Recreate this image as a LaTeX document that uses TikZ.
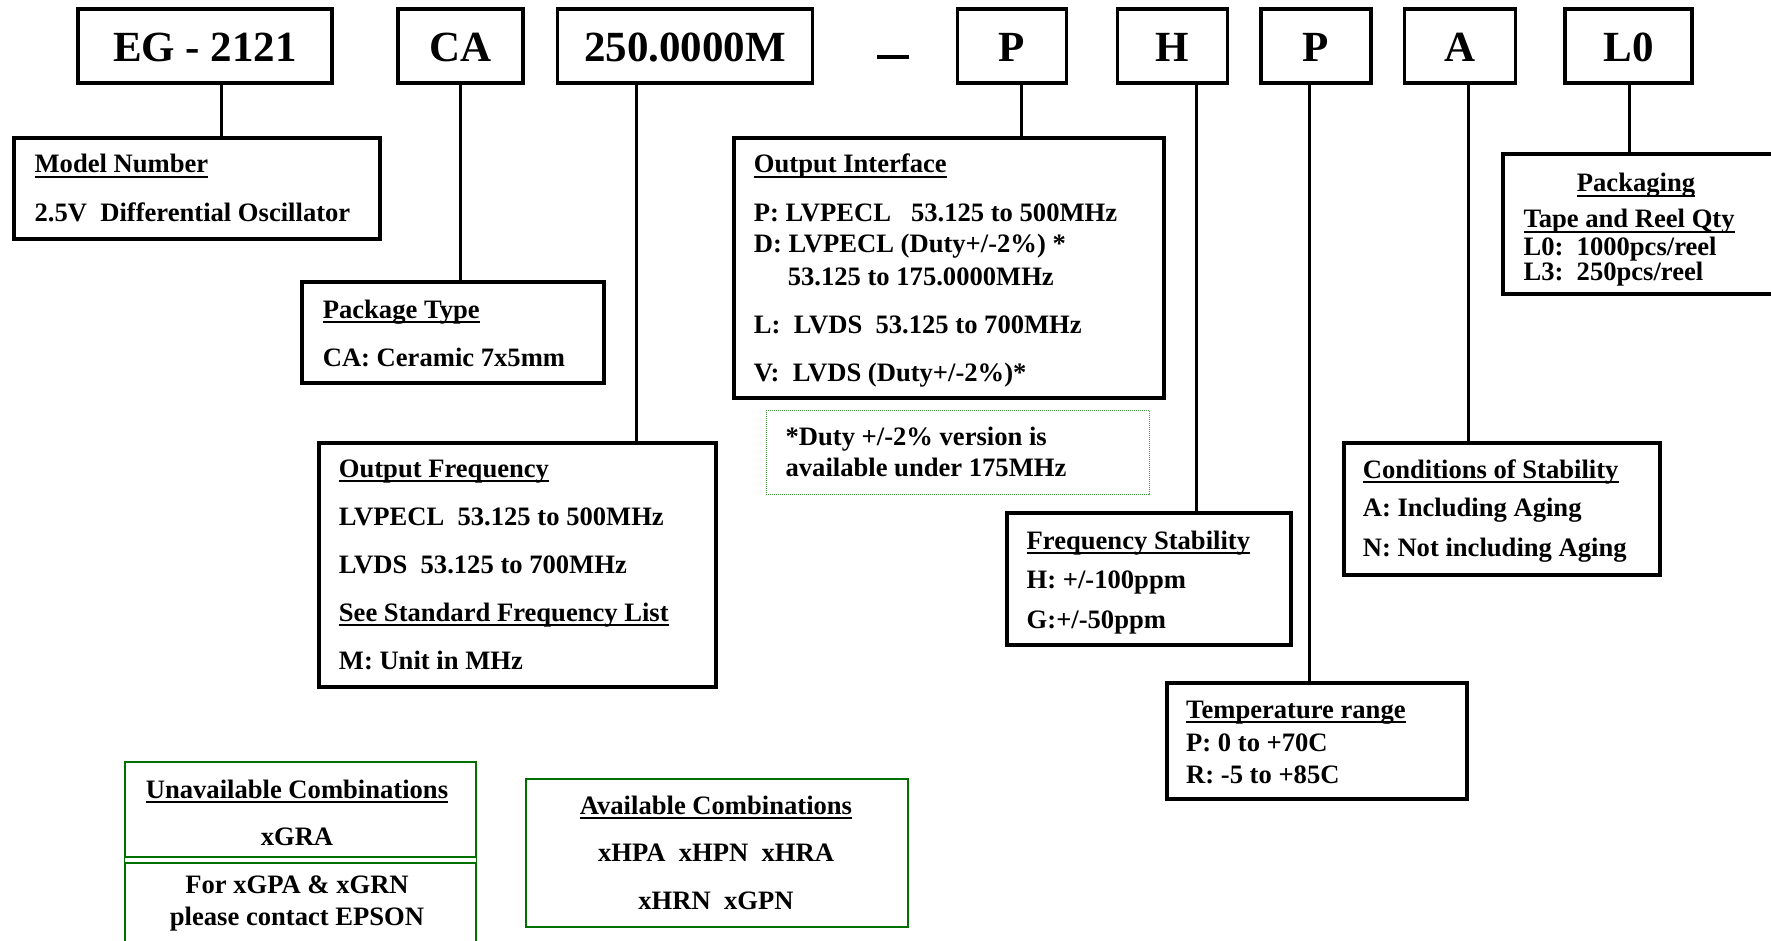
\documentclass[tikz,border=0pt]{standalone}
\usepackage{fontspec}
\setmainfont{Liberation Serif}
\definecolor{comboGreen}{RGB}{0,112,0}
\definecolor{noteGreen}{RGB}{60,150,60}
\newsavebox\ulinbox
\newcommand{\ulin}[1]{\sbox\ulinbox{#1}\rlap{\rule[-4.6pt]{\wd\ulinbox}{2pt}}\usebox\ulinbox}

\begin{document}
\begin{tikzpicture}[x=1pt, y=-1pt,
    node font=\fontsize{26.6}{30}\selectfont\bfseries,
    code/.style={draw, line width=3.4pt, minimum height=74.3pt, inner sep=0pt, outer sep=0pt,
      text height=31.5pt, text depth=0pt, font=\fontsize{43}{48}\selectfont\bfseries},
    info/.style={draw, line width=3.4pt, anchor=north west, inner sep=0pt, outer sep=0pt},
    combo/.style={draw=comboGreen, line width=2pt, anchor=north west, inner sep=0pt, outer sep=0pt},
    link/.style={line width=3pt},
    txt/.style={anchor=base west, inner sep=0pt},
    ctxt/.style={anchor=base, inner sep=0pt}]
  \useasboundingbox (0,0) rectangle (1771,941);
  \clip (0,0) rectangle (1771,941);

  % part number code
  \node[code, minimum width=254pt] (eg) at (205,46) {EG - 2121};
  \node[code, minimum width=125pt] (ca) at (460.5,46) {CA};
  \node[code, minimum width=254.5pt] (freq) at (685,46) {250.0000M};
  \node (dash) at (893,57) {\rule{32pt}{4pt}};
  \node[code, minimum width=109.5pt] (pout) at (1012,46) {P};
  \node[code, minimum width=110pt] (hstab) at (1172.5,46) {H};
  \node[code, minimum width=110pt] (ptemp) at (1316,46) {P};
  \node[code, minimum width=110.5pt] (acond) at (1460,46) {A};
  \node[code, minimum width=127pt] (lpack) at (1628.5,46) {L0};

  % description boxes
  \node[info, minimum width=366pt, minimum height=101pt] (model) at (14,138) {};
  \node[info, minimum width=302pt, minimum height=101pt] (pkg) at (302,282) {};
  \node[info, minimum width=397pt, minimum height=244pt] (ofreq) at (319,443) {};
  \node[info, minimum width=430pt, minimum height=260pt] (oif) at (734,138) {};
  \node[draw=noteGreen, densely dotted, line width=1pt, anchor=north west, inner sep=0pt,
    minimum width=383pt, minimum height=84.5pt] (note) at (765.5,409.5) {};
  \node[info, minimum width=284pt, minimum height=132pt] (fstab) at (1007,513) {};
  \node[info, minimum width=300pt, minimum height=116pt] (trange) at (1167,683) {};
  \node[info, minimum width=316pt, minimum height=132pt] (cstab) at (1344,443) {};
  \node[info, minimum width=320pt, minimum height=140pt] (packing) at (1503,154) {};
  \node[combo, minimum width=351pt, minimum height=220pt] (unav) at (125,761.5) {};
  \node[combo, minimum width=382pt, minimum height=148pt] (avail) at (526,778.5) {};
  \draw[comboGreen, double, double distance=4pt, line width=2pt]
    ([yshift=-98.5pt]unav.north west) -- ([yshift=-98.5pt]unav.north east);

  % connectors
  \draw[link] ([xshift=16pt]eg.south) -- ([xshift=16pt]eg.south |- model.north);
  \draw[link] (ca.south) -- (ca.south |- pkg.north);
  \draw[link] ([xshift=-49pt]freq.south) -- ([xshift=-49pt]freq.south |- ofreq.north);
  \draw[link] ([xshift=9pt]pout.south) -- ([xshift=9pt]pout.south |- oif.north);
  \draw[link] ([xshift=24pt]hstab.south) -- ([xshift=24pt]hstab.south |- fstab.north);
  \draw[link] ([xshift=-7pt]ptemp.south) -- ([xshift=-7pt]ptemp.south |- trange.north);
  \draw[link] ([xshift=8pt]acond.south) -- ([xshift=8pt]acond.south |- cstab.north);
  \draw[link] ([xshift=0.5pt]lpack.south) -- ([xshift=0.5pt]lpack.south |- packing.north);

  % texts
  \node[txt] (model-a) at (34.4,173) {\ulin{Model Number}};
  \node[txt] (model-b) at (34.4,221.7) {2.5V\ \ Differential Oscillator};

  \node[txt] (pkg-a) at (322.6,318.3) {\ulin{Package Type}};
  \node[txt] (pkg-b) at (322.6,366) {CA: Ceramic 7x5mm};

  \node[txt] (ofreq-a) at (338.7,477.7) {\ulin{Output Frequency}};
  \node[txt] (ofreq-b) at (338.7,525.7) {LVPECL\ \ 53.125 to 500MHz};
  \node[txt] (ofreq-c) at (338.7,573.3) {LVDS\ \ 53.125 to 700MHz};
  \node[txt] (ofreq-d) at (338.7,621) {\ulin{See Standard Frequency List}};
  \node[txt] (ofreq-e) at (338.7,669) {M: Unit in MHz};

  \node[txt] (oif-a) at (753.7,173) {\ulin{Output Interface}};
  \node[txt] (oif-b) at (753.7,221.7) {P: LVPECL\ \ \ 53.125 to 500MHz};
  \node[txt] (oif-c) at (753.7,253) {D: LVPECL (Duty+/-2\%) *};
  \node[txt] (oif-d) at (787.6,285) {53.125 to 175.0000MHz};
  \node[txt] (oif-e) at (753.7,333) {L:\ \ LVDS\ \ 53.125 to 700MHz};
  \node[txt] (oif-f) at (753.7,381.7) {V:\ \ LVDS (Duty+/-2\%)*};

  \node[txt] (note-a) at (785.4,445) {*Duty +/-2\% version is};
  \node[txt] (note-b) at (785.4,476.7) {available under 175MHz};

  \node[txt] (fstab-a) at (1026.5,549) {\ulin{Frequency Stability}};
  \node[txt] (fstab-b) at (1026.5,588) {H: +/-100ppm};
  \node[txt] (fstab-c) at (1026.5,628) {G:+/-50ppm};

  \node[txt] (trange-a) at (1186,718.3) {\ulin{Temperature range}};
  \node[txt] (trange-b) at (1186,751) {P: 0 to +70C};
  \node[txt] (trange-c) at (1186,783.3) {R: -5 to +85C};

  \node[txt] (cstab-a) at (1362.6,478.3) {\ulin{Conditions of Stability}};
  \node[txt] (cstab-b) at (1362.6,516.7) {A: Including Aging};
  \node[txt] (cstab-c) at (1362.6,556.7) {N: Not including Aging};

  \node[ctxt] (packing-a) at (1636,192) {\ulin{Packaging}};
  \node[txt] (packing-b) at (1523.3,228) {\ulin{Tape and Reel Qty}};
  \node[txt] (packing-c) at (1523.3,256) {L0:\ \ 1000pcs/reel};
  \node[txt] (packing-d) at (1523.3,280) {L3:\ \ 250pcs/reel};

  \node[ctxt] (unav-a) at (297,798.3) {\ulin{Unavailable Combinations}};
  \node[ctxt] (unav-b) at (297,845.7) {xGRA};
  \node[ctxt] (unav-c) at (297,893.3) {For xGPA \& xGRN};
  \node[ctxt] (unav-d) at (297,925) {please contact EPSON};

  \node[ctxt] (avail-a) at (716,814) {\ulin{Available Combinations}};
  \node[ctxt] (avail-b) at (716,861.7) {xHPA\ \ xHPN\ \ xHRA};
  \node[ctxt] (avail-c) at (716,909.3) {xHRN\ \ xGPN};
\end{tikzpicture}
\end{document}
